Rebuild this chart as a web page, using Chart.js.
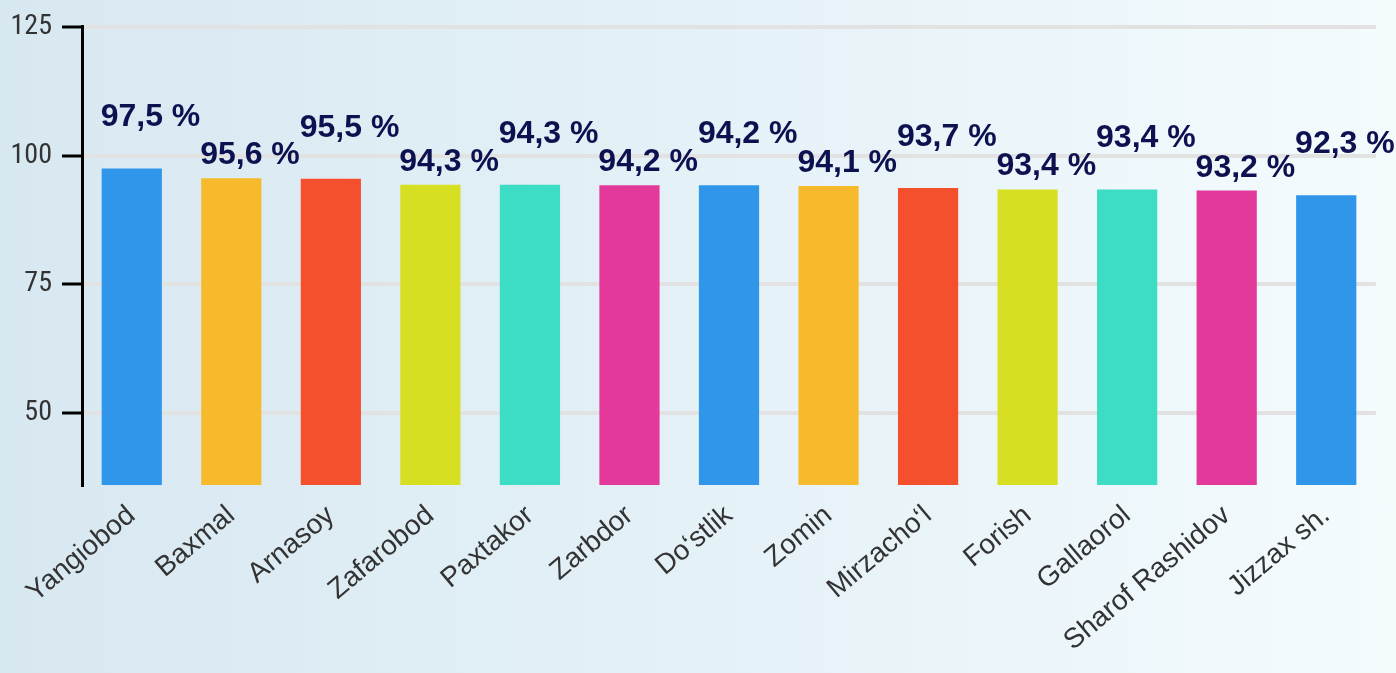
<!DOCTYPE html>
<html>
<head>
<meta charset="utf-8">
<script src="https://cdn.jsdelivr.net/npm/chart.js@4"></script>
<style>
html,body{margin:0;padding:0;width:1396px;height:673px;overflow:hidden;
background:linear-gradient(to right,#d8e8f1 0%,#e4f1f7 50%,#f4fbfd 100%);}
#wrap{position:absolute;left:0;top:0;width:1396px;height:673px;}
</style>
</head>
<body>
<div id="wrap"><canvas id="c" width="1396" height="673"></canvas></div>
<script>
const categories = ["Yangiobod","Baxmal","Arnasoy","Zafarobod","Paxtakor","Zarbdor","Do‘stlik","Zomin","Mirzacho‘l","Forish","Gallaorol","Sharof Rashidov","Jizzax sh."];
const values = [97.5, 95.6, 95.5, 94.3, 94.3, 94.2, 94.2, 94.1, 93.7, 93.4, 93.4, 93.2, 92.3];
const yTicks = [50, 75, 100, 125];
const palette = ["#3096EA","#F7BA2C","#F5502D","#D7DF23","#3DDCC4","#E3399A"];

const valueLabels = {
  id: 'valueLabels',
  afterDatasetsDraw(chart) {
    const ctx = chart.ctx;
    const meta = chart.getDatasetMeta(0);
    ctx.save();
    ctx.font = 'bold 32px "Liberation Sans", Arial, sans-serif';
    ctx.fillStyle = '#0e1150';
    ctx.textAlign = 'left';
    ctx.textBaseline = 'alphabetic';
    meta.data.forEach((bar, i) => {
      const txt = values[i].toFixed(1).replace('.', ',') + ' %';
      const gap = (i % 2 === 0) ? 42 : 14;
      ctx.fillText(txt, bar.x - bar.width / 2 - 1, bar.y - gap);
    });
    ctx.restore();
  }
};

new Chart(document.getElementById('c'), {
  type: 'bar',
  data: {
    labels: categories,
    datasets: [{
      data: values,
      backgroundColor: categories.map((_, i) => palette[i % palette.length]),
      barPercentage: 0.605,
      categoryPercentage: 1.0
    }]
  },
  options: {
    responsive: false,
    animation: false,
    devicePixelRatio: 1,
    layout: { padding: { top: 23, right: 20, left: 0, bottom: 0 } },
    plugins: { legend: { display: false }, tooltip: { enabled: false } },
    scales: {
      x: {
        grid: { display: false, drawTicks: false },
        border: { display: false },
        ticks: {
          color: '#333333',
          font: { family: '"Liberation Sans", Arial, sans-serif', size: 28 },
          maxRotation: 40, minRotation: 40,
          padding: 14,
          autoSkip: false
        },
        afterFit(scale) { scale.height = 188; }
      },
      y: {
        min: 36, max: 125,
        afterBuildTicks(axis) { axis.ticks = yTicks.map(v => ({ value: v })); },
        grid: { color: '#e2e2e2', lineWidth: 4, tickColor: '#000', tickWidth: 3, tickLength: 20 },
        border: { color: '#000', width: 3 },
        ticks: {
          color: '#333333',
          font: { family: '"Roboto Condensed", "Liberation Sans Narrow", "DejaVu Sans Condensed", Roboto, sans-serif', size: 28 },
          padding: 10
        },
        afterFit(scale) { scale.width = 82; }
      }
    }
  },
  plugins: [valueLabels]
});
</script>
</body>
</html>
